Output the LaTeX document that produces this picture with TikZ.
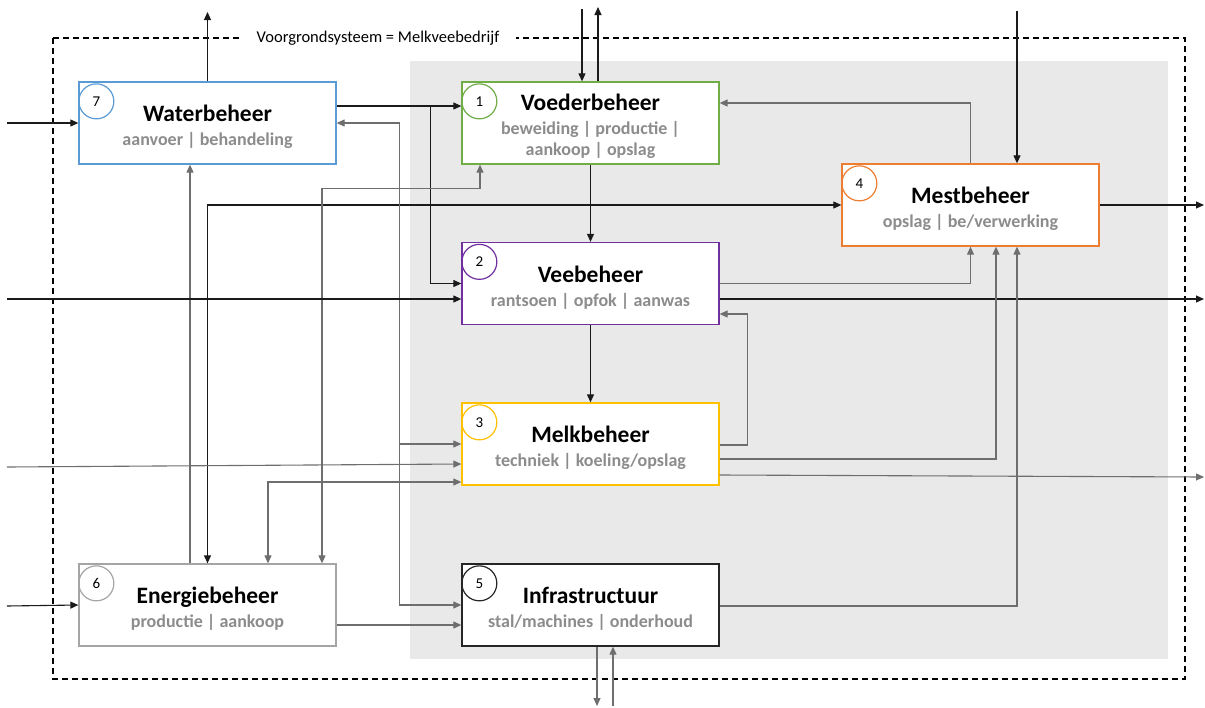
\documentclass[tikz,border=0pt]{standalone}
\usepackage{fontspec}
\setmainfont{Carlito}
\usetikzlibrary{arrows.meta,calc}
\definecolor{waterblue}{HTML}{5B9BD5}
\definecolor{voedergreen}{HTML}{70AD47}
\definecolor{mestorange}{HTML}{ED7D31}
\definecolor{veepurple}{HTML}{7030A0}
\definecolor{melkyellow}{HTML}{FFC000}
\definecolor{energiegray}{HTML}{A5A5A5}
\definecolor{infrablack}{HTML}{262626}
\definecolor{subgray}{HTML}{8C8C8C}
\definecolor{bggray}{HTML}{E9E9E9}
\definecolor{linedark}{HTML}{1A1A1A}
\definecolor{linegray}{HTML}{6E6E6E}
\newcommand\boxtitle[1]{{\fontsize{23.5}{24}\selectfont\bfseries\rule{0pt}{24pt}#1}}
\newcommand\boxsub[1]{{\fontsize{18}{24}\selectfont\bfseries\color{subgray}#1}}

\begin{document}
\begin{tikzpicture}[x=1pt,y=-1pt,
  box/.style={draw=#1,line width=1.3pt,fill=white,minimum width=257pt,minimum height=82pt,align=center,inner sep=0pt,font=\fontsize{18}{24}\selectfont},
  numc/.style={draw=#1,line width=1.2pt,circle,minimum size=35pt,inner sep=0pt,font=\fontsize{15}{15}\selectfont},
  arr/.style={-{Triangle[length=8pt,width=7pt]},line width=1.1pt,draw=linedark},
  garr/.style={arr,draw=linegray},
  both/.style={{Triangle[length=8pt,width=7pt]}-{Triangle[length=8pt,width=7pt]},line width=1.1pt,draw=linedark},
  gboth/.style={both,draw=linegray}]
\useasboundingbox (0,0) rectangle (1205,707);
\fill[bggray] (410,61) rectangle (1168,659);
\draw[line width=1.3pt,dash pattern=on 6pt off 4pt] (53,38) rectangle (1185,679);
\node[fill=white,inner xsep=17pt,inner ysep=4pt,font=\fontsize{16.5}{16.5}\selectfont] (sysLabel) at (378,38) {Voorgrondsysteem = Melkveebedrijf};

\node[box=waterblue] (water) at (207.5,123) {\boxtitle{Waterbeheer}\\\boxsub{aanvoer | behandeling}};
\node[box=voedergreen] (voeder) at (590.5,123) {\boxtitle{Voederbeheer}\\\boxsub{beweiding | productie |}\\[-3pt]\boxsub{aankoop | opslag}};
\node[box=mestorange] (mest) at (970.5,205) {\boxtitle{Mestbeheer}\\\boxsub{opslag | be/verwerking}};
\node[box=veepurple] (vee) at (590.5,283.5) {\boxtitle{Veebeheer}\\\boxsub{rantsoen | opfok | aanwas}};
\node[box=melkyellow] (melk) at (590.5,444) {\boxtitle{Melkbeheer}\\\boxsub{techniek | koeling/opslag}};
\node[box=energiegray] (energie) at (207.5,605) {\boxtitle{Energiebeheer}\\\boxsub{productie | aankoop}};
\node[box=infrablack] (infra) at (590.5,605) {\boxtitle{Infrastructuur}\\\boxsub{stal/machines | onderhoud}};

\node[numc=waterblue] (n7) at ($(water.north west)+(18,20)$) {7};
\node[numc=voedergreen] (n1) at ($(voeder.north west)+(18,20)$) {1};
\node[numc=mestorange] (n4) at ($(mest.north west)+(18,20)$) {4};
\node[numc=veepurple] (n2) at ($(vee.north west)+(18,20)$) {2};
\node[numc=melkyellow] (n3) at ($(melk.north west)+(18,20)$) {3};
\node[numc=energiegray] (n6) at ($(energie.north west)+(18,20)$) {6};
\node[numc=infrablack] (n5) at ($(infra.north west)+(18,20)$) {5};

\coordinate (outWater) at (207.5,12);
\coordinate (inWater) at (7,123);
\coordinate (inVee) at (7,299);
\coordinate (inMelk) at (7,467);
\coordinate (inEnergie) at (7,606);
\coordinate (inVoeder) at (582,9);
\coordinate (outVoeder) at (598,7);
\coordinate (inMest) at (1017,11);
\coordinate (outMest) at (1204,205);
\coordinate (outVee) at (1204,299);
\coordinate (outMelk) at (1204,477);
\coordinate (outInfra) at (597,706);
\coordinate (inInfra) at (613,706);

\draw[arr] (water.north) -- (outWater);
\draw[arr] (inWater) -- (water.west);
\draw[arr] ([yshift=17pt]water.east) -- ([yshift=17pt]voeder.west);
\draw[arr] ([yshift=17pt,xshift=94pt]water.east) |- (vee.west);
\draw[both] (mest.west) -| (energie.north);
\draw[garr] ([xshift=-17.5pt]energie.north) -- ([xshift=-17.5pt]water.south);
\draw[gboth] ([xshift=114.5pt]energie.north) |- ([xshift=-110.5pt,yshift=-24pt]voeder.south) -- ([xshift=-110.5pt]voeder.south);
\draw[gboth] (water.east) -| ([xshift=-62pt]infra.west) -- (infra.west);
\draw[garr] ([xshift=-62pt]melk.west) -- (melk.west);
\draw[arr] (inVee) -- (inVee -| vee.west);
\draw[garr] (inMelk) -- ([yshift=-20pt]melk.west);
\draw[gboth] ([xshift=60.5pt]energie.north) |- ([yshift=-38pt]melk.west);
\draw[arr] (voeder.south) -- (vee.north);
\draw[arr] (vee.south) -- (melk.north);
\draw[arr] (inVoeder) -- (inVoeder |- voeder.north);
\draw[arr] (outVoeder |- voeder.north) -- (outVoeder);
\draw[garr] (mest.north) |- ([yshift=20pt]voeder.east);
\draw[arr] (inMest) -- (inMest |- mest.north);
\draw[arr] (mest.east) -- (outMest);
\draw[garr] (vee.east) -| (mest.south);
\draw[arr] ([yshift=-15.5pt]vee.east) -- (outVee);
\draw[garr] ([yshift=-1pt]melk.east) -- ++(28,0) |- ([yshift=-30.5pt]vee.east);
\draw[garr] ([yshift=-15pt]melk.east) -| ([xshift=25.5pt]mest.south);
\draw[garr] ([yshift=-31pt]melk.east) -- (outMelk);
\draw[garr] ([yshift=-1pt]infra.east) -| ([xshift=46.5pt]mest.south);
\draw[garr] ([yshift=-20pt]energie.east) -- ([yshift=-20pt]infra.west);
\draw[arr] (inEnergie) -- (energie.west);
\draw[garr] (outInfra |- infra.south) -- (outInfra);
\draw[garr] (inInfra) -- (inInfra |- infra.south);
\end{tikzpicture}
\end{document}
